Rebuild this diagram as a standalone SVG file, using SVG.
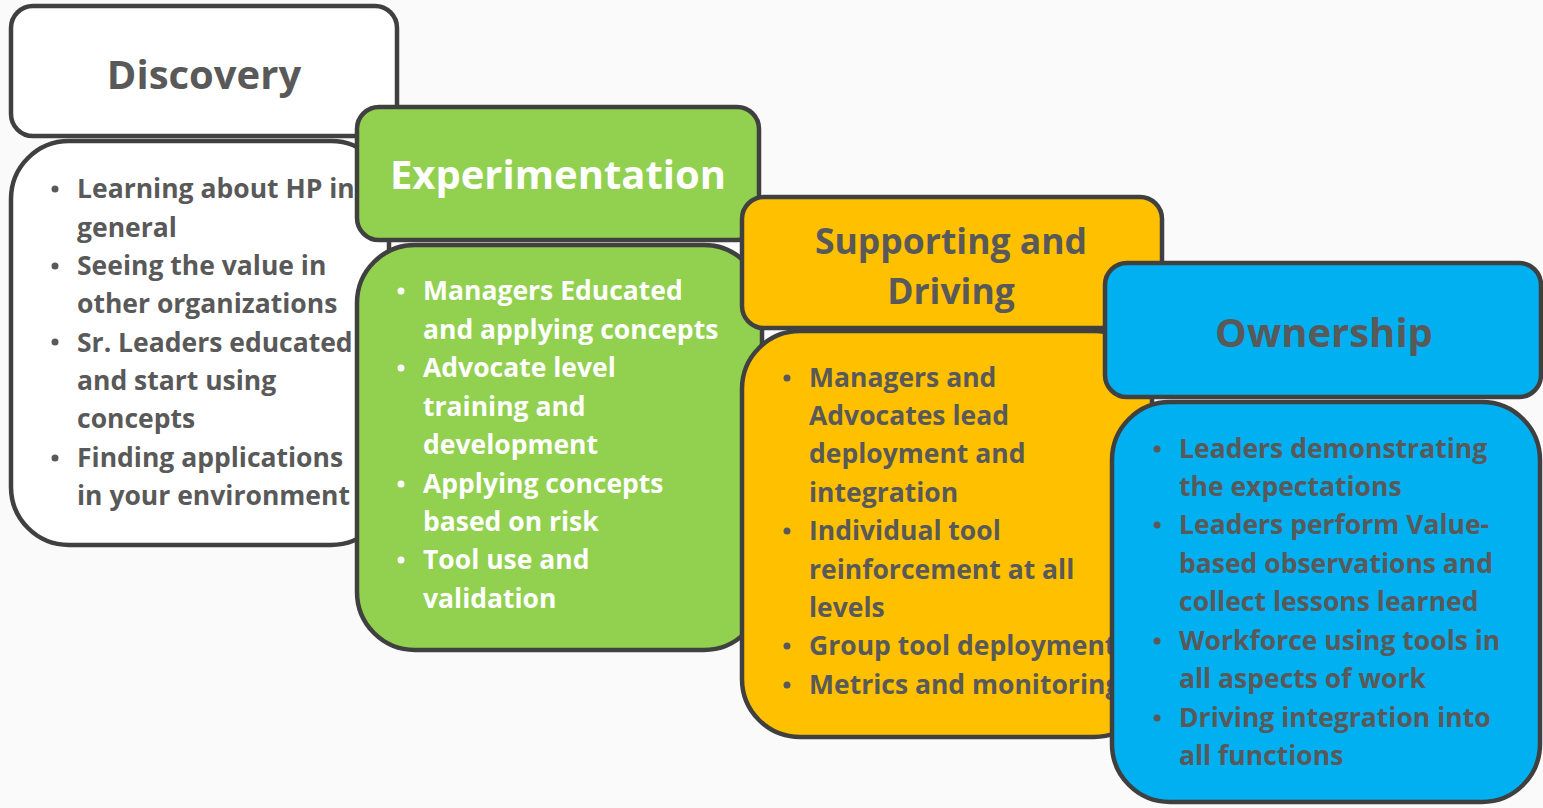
<svg xmlns="http://www.w3.org/2000/svg" width="1543" height="808" viewBox="0 0 1543 808">
<style>
.box{stroke:#404040;stroke-width:4.5}
.title{font-family:"Open Sans","Liberation Sans",sans-serif;font-weight:700;font-size:40px;text-anchor:middle}
.item{font-family:"Open Sans","Liberation Sans",sans-serif;font-weight:700;font-size:26.5px}
.gray{fill:#595959}
.white{fill:#FFFFFF}
</style>
<rect x="0" y="0" width="1543" height="808" fill="#FAFAFA"/>
<g id="discovery">
<rect class="box" x="11" y="6" width="386" height="130" rx="22" fill="#FFFFFF"/>
<rect class="box" x="11" y="141" width="378" height="404" rx="58" fill="#FFFFFF"/>
<text class="title gray" x="204" y="89">Discovery</text>
<g class="gray">
<circle cx="55" cy="189" r="3.5"/><circle cx="55" cy="266" r="3.5"/><circle cx="55" cy="342" r="3.5"/><circle cx="55" cy="458" r="3.5"/>
</g>
<text class="item gray">
<tspan x="77" y="198">Learning about HP in</tspan>
<tspan x="77" y="236.5">general</tspan>
<tspan x="77" y="275">Seeing the value in</tspan>
<tspan x="77" y="313">other organizations</tspan>
<tspan x="77" y="351.5">Sr. Leaders educated</tspan>
<tspan x="77" y="390">and start using</tspan>
<tspan x="77" y="428">concepts</tspan>
<tspan x="77" y="467">Finding applications</tspan>
<tspan x="77" y="505">in your environment</tspan>
</text>
</g>
<g id="experimentation">
<rect class="box" x="357" y="107" width="402" height="133" rx="22" fill="#92D050"/>
<rect class="box" x="357" y="245" width="405" height="405" rx="58" fill="#92D050"/>
<text class="title white" x="558" y="189">Experimentation</text>
<g class="white">
<circle cx="401" cy="291" r="3.5"/><circle cx="401" cy="368" r="3.5"/><circle cx="401" cy="484" r="3.5"/><circle cx="401" cy="560" r="3.5"/>
</g>
<text class="item white">
<tspan x="423" y="300">Managers Educated</tspan>
<tspan x="423" y="339">and applying concepts</tspan>
<tspan x="423" y="377">Advocate level</tspan>
<tspan x="423" y="416">training and</tspan>
<tspan x="423" y="454">development</tspan>
<tspan x="423" y="493">Applying concepts</tspan>
<tspan x="423" y="531">based on risk</tspan>
<tspan x="423" y="569">Tool use and</tspan>
<tspan x="423" y="608">validation</tspan>
</text>
</g>
<g id="supporting">
<rect class="box" x="742" y="197" width="420" height="131" rx="22" fill="#FFC000"/>
<rect class="box" x="742" y="331" width="410" height="406" rx="58" fill="#FFC000"/>
<text class="title gray" style="font-size:35.5px" x="951"><tspan x="951" y="254">Supporting and</tspan><tspan x="951" y="304">Driving</tspan></text>
<g class="gray">
<circle cx="787" cy="378" r="3.5"/><circle cx="787" cy="531" r="3.5"/><circle cx="787" cy="646" r="3.5"/><circle cx="787" cy="685" r="3.5"/>
</g>
<text class="item gray">
<tspan x="809" y="387">Managers and</tspan>
<tspan x="809" y="425">Advocates lead</tspan>
<tspan x="809" y="463">deployment and</tspan>
<tspan x="809" y="502">integration</tspan>
<tspan x="809" y="540">Individual tool</tspan>
<tspan x="809" y="579">reinforcement at all</tspan>
<tspan x="809" y="617">levels</tspan>
<tspan x="809" y="655">Group tool deployment</tspan>
<tspan x="809" y="694">Metrics and monitoring</tspan>
</text>
</g>
<g id="ownership">
<rect class="box" x="1105" y="263" width="436" height="134" rx="22" fill="#00B0F0"/>
<rect class="box" x="1112" y="402" width="428" height="400" rx="58" fill="#00B0F0"/>
<text class="title gray" x="1324" y="347">Ownership</text>
<g class="gray">
<circle cx="1157" cy="449" r="3.5"/><circle cx="1157" cy="525" r="3.5"/><circle cx="1157" cy="641" r="3.5"/><circle cx="1157" cy="718" r="3.5"/>
</g>
<text class="item gray">
<tspan x="1179" y="458">Leaders demonstrating</tspan>
<tspan x="1179" y="496">the expectations</tspan>
<tspan x="1179" y="534">Leaders perform Value-</tspan>
<tspan x="1179" y="573">based observations and</tspan>
<tspan x="1179" y="611">collect lessons learned</tspan>
<tspan x="1179" y="650">Workforce using tools in</tspan>
<tspan x="1179" y="688">all aspects of work</tspan>
<tspan x="1179" y="727">Driving integration into</tspan>
<tspan x="1179" y="765">all functions</tspan>
</text>
</g>
</svg>
